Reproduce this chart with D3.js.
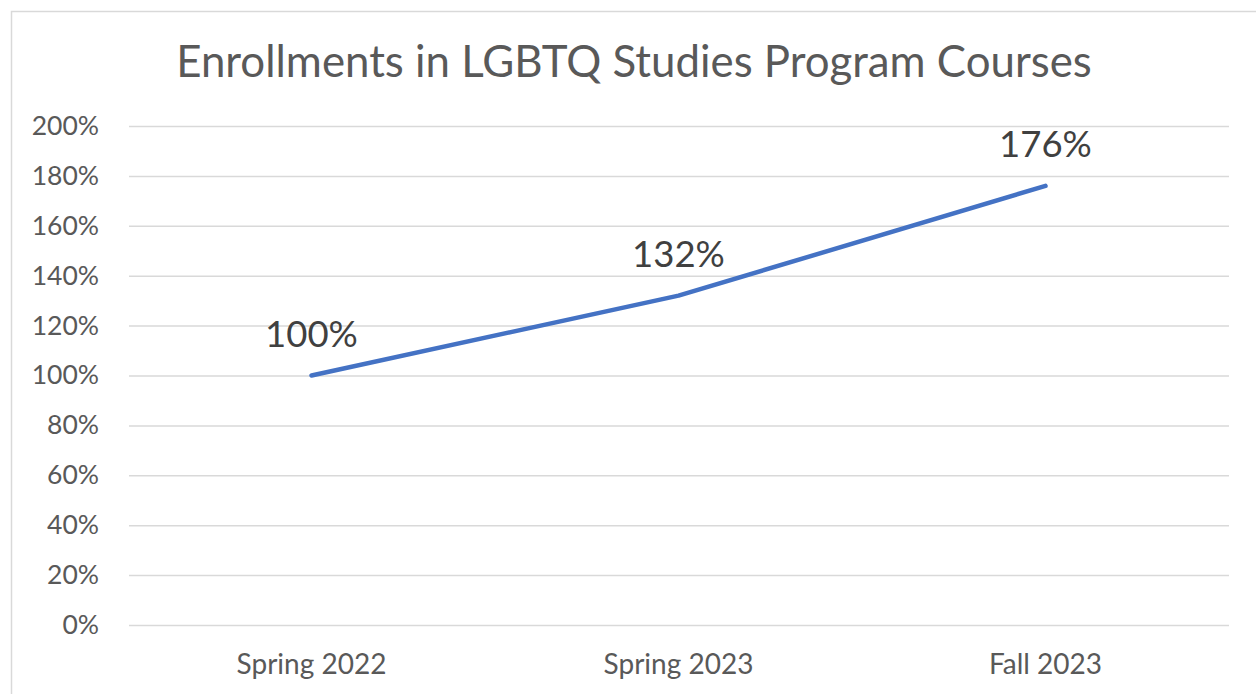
<!DOCTYPE html>
<html><head><meta charset="utf-8">
<script src="https://cdn.jsdelivr.net/npm/d3@7"></script>
<style>body{margin:0;background:#fff}svg{display:block}</style>
</head><body>
<svg id="c" width="1256" height="694"></svg>
<script>
const categories = ["Spring 2022", "Spring 2023", "Fall 2023"];
const values = [1.00, 1.32, 1.76];
const yTicks = [0, 0.2, 0.4, 0.6, 0.8, 1.0, 1.2, 1.4, 1.6, 1.8, 2.0];
const title = "Enrollments in LGBTQ Studies Program Courses";

const FONT = "Lato, 'Open Sans', sans-serif";
const svg = d3.select("#c");
svg.append("rect").attr("x", 11.5).attr("y", 11.5).attr("width", 1300).attr("height", 800)
  .attr("fill", "#fff").attr("stroke", "#d9d9d9").attr("stroke-width", 1.5);

const x = d3.scaleBand().domain(categories).range([128, 1229]);
const y = d3.scaleLinear().domain([0, 2]).range([625, 126]);
const fmt = d => Math.round(d * 100) + "%";

const yAxis = svg.append("g").attr("transform", "translate(129,0)")
  .call(d3.axisLeft(y).tickValues(yTicks).tickFormat(fmt).tickSize(-1100).tickPadding(30));
yAxis.select(".domain").remove();
yAxis.selectAll("line").attr("stroke", "#d9d9d9").attr("stroke-width", 1.5);
yAxis.selectAll("text").attr("fill", "#595959").style("font-family", FONT).style("font-size", "26.5px");

const xAxis = svg.append("g").attr("transform", "translate(0,625)")
  .call(d3.axisBottom(x).tickSize(0).tickPadding(29));
xAxis.select(".domain").remove();
xAxis.selectAll("text").attr("fill", "#595959").style("font-family", FONT).style("font-size", "28px");

const line = d3.line().x((d, i) => x(categories[i]) + x.bandwidth() / 2).y(d => y(d));
svg.append("path").datum(values).attr("d", line).attr("fill", "none")
  .attr("stroke", "#4472C4").attr("stroke-width", 4.5).attr("stroke-linecap", "round").attr("stroke-linejoin", "round");

svg.selectAll(".lbl").data(values).enter().append("text").attr("class", "lbl")
  .attr("x", (d, i) => x(categories[i]) + x.bandwidth() / 2)
  .attr("y", d => y(d) - 29)
  .attr("text-anchor", "middle").attr("fill", "#404040")
  .style("font-family", FONT).style("font-size", "36.5px").text(fmt);

svg.append("text").attr("x", 634).attr("y", 77).attr("text-anchor", "middle")
  .attr("fill", "#595959").style("font-family", FONT).style("font-size", "43.8px").text(title);
</script>
</body></html>
